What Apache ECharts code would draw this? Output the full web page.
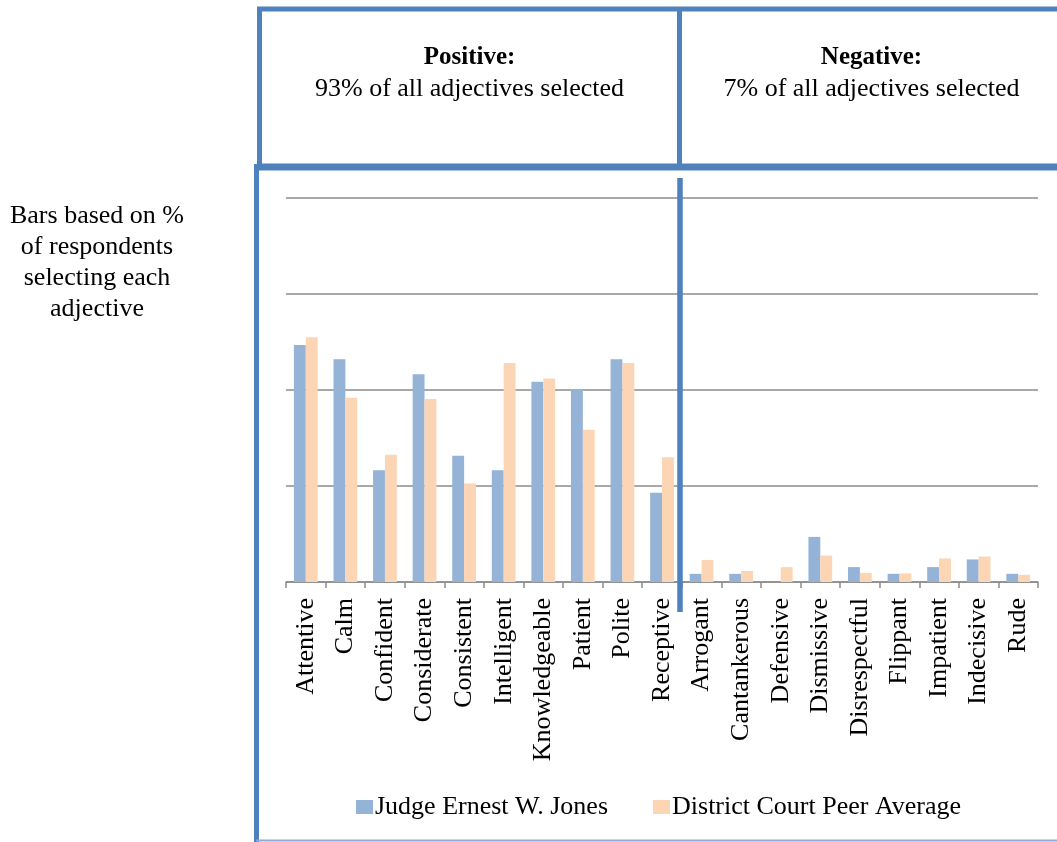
<!DOCTYPE html>
<html>
<head>
<meta charset="utf-8">
<script src="https://cdn.jsdelivr.net/npm/echarts@6/dist/echarts.min.js"></script>
<style>
  html, body { margin: 0; padding: 0; background: #fff; }
  #chart { width: 1057px; height: 842px; }
</style>
</head>
<body>
<div id="chart"></div>
<script>
const adjectives = ['Attentive', 'Calm', 'Confident', 'Considerate', 'Consistent', 'Intelligent',
  'Knowledgeable', 'Patient', 'Polite', 'Receptive', 'Arrogant', 'Cantankerous', 'Defensive',
  'Dismissive', 'Disrespectful', 'Flippant', 'Impatient', 'Indecisive', 'Rude'];
const judgeValues = [49.4, 46.4, 23.3, 43.3, 26.3, 23.3, 41.7, 40.2, 46.4, 18.6,
  1.7, 1.7, 0, 9.4, 3.1, 1.7, 3.1, 4.7, 1.7];
const peerValues = [51.0, 38.4, 26.5, 38.1, 20.5, 45.6, 42.4, 31.7, 45.6, 26.0,
  4.6, 2.3, 3.1, 5.5, 1.9, 1.8, 4.9, 5.3, 1.5];
const seriesNames = ['Judge Ernest W. Jones', 'District Court Peer Average'];

const boxBlue = '#4f81bd';
const serif = '"Liberation Serif", "Times New Roman", serif';

const chart = echarts.init(document.getElementById('chart'));

const option = {
  animation: false,
  textStyle: { fontFamily: serif },
  grid: { left: 286, right: 19, top: 198, bottom: 260 },
  legend: {
    top: 789,
    left: 351,
    itemWidth: 17,
    itemHeight: 14,
    itemGap: 45,
    icon: 'rect',
    textStyle: { fontFamily: serif, fontSize: 26, color: '#000', padding: [0, 0, 0, -3] },
    data: seriesNames
  },
  xAxis: {
    type: 'category',
    data: adjectives,
    axisLine: { lineStyle: { color: '#8c8c8c', width: 1.5 } },
    axisTick: { show: true, length: 6, lineStyle: { color: '#8c8c8c', width: 1.5 } },
    axisLabel: { rotate: 90, fontFamily: serif, fontSize: 26, color: '#000', margin: 16, interval: 0 }
  },
  yAxis: {
    type: 'value',
    min: 0,
    max: 80,
    interval: 20,
    axisLine: { show: false },
    axisTick: { show: false },
    axisLabel: { show: false },
    splitLine: { lineStyle: { color: '#8c8c8c', width: 1.5 } }
  },
  series: [
    {
      name: seriesNames[0],
      type: 'bar',
      data: judgeValues,
      barGap: '0%',
      barCategoryGap: '40%',
      itemStyle: { color: '#95b3d7' }
    },
    {
      name: seriesNames[1],
      type: 'bar',
      data: peerValues,
      itemStyle: { color: '#fcd5b5' }
    }
  ],
  graphic: [
    // top header boxes
    { type: 'line', shape: { x1: 257, y1: 9, x2: 1060, y2: 9 }, style: { stroke: boxBlue, lineWidth: 5 } },
    { type: 'line', shape: { x1: 259.5, y1: 7, x2: 259.5, y2: 166 }, style: { stroke: boxBlue, lineWidth: 5 } },
    { type: 'line', shape: { x1: 679.5, y1: 7, x2: 679.5, y2: 166 }, style: { stroke: boxBlue, lineWidth: 5 } },
    { type: 'line', shape: { x1: 257, y1: 167, x2: 1060, y2: 167 }, style: { stroke: boxBlue, lineWidth: 7 } },
    // lower box
    { type: 'line', shape: { x1: 256.5, y1: 164, x2: 256.5, y2: 842 }, style: { stroke: boxBlue, lineWidth: 5 } },
    { type: 'line', shape: { x1: 256, y1: 840.5, x2: 1060, y2: 840.5 }, style: { stroke: '#8eaadb', lineWidth: 2 } },
    // divider between positive and negative
    { type: 'line', z: 10, shape: { x1: 680, y1: 178, x2: 680, y2: 612 }, style: { stroke: boxBlue, lineWidth: 5.5 } },
    // header texts
    { type: 'text', x: 469.5, y: 58, style: { text: 'Positive:', font: 'bold 25px ' + serif, fill: '#000', align: 'center', verticalAlign: 'middle' } },
    { type: 'text', x: 469.5, y: 89, style: { text: '93% of all adjectives selected', font: '26px ' + serif, fill: '#000', align: 'center', verticalAlign: 'middle' } },
    { type: 'text', x: 871.5, y: 58, style: { text: 'Negative:', font: 'bold 25px ' + serif, fill: '#000', align: 'center', verticalAlign: 'middle' } },
    { type: 'text', x: 871.5, y: 89, style: { text: '7% of all adjectives selected', font: '26px ' + serif, fill: '#000', align: 'center', verticalAlign: 'middle' } },
    // side note
    { type: 'text', x: 97, y: 263, style: {
      text: 'Bars based on %\nof respondents\nselecting each\nadjective',
      font: '26px ' + serif, lineHeight: 31, fill: '#000', align: 'center', verticalAlign: 'middle' } }
  ]
};

chart.setOption(option);
</script>
</body>
</html>
